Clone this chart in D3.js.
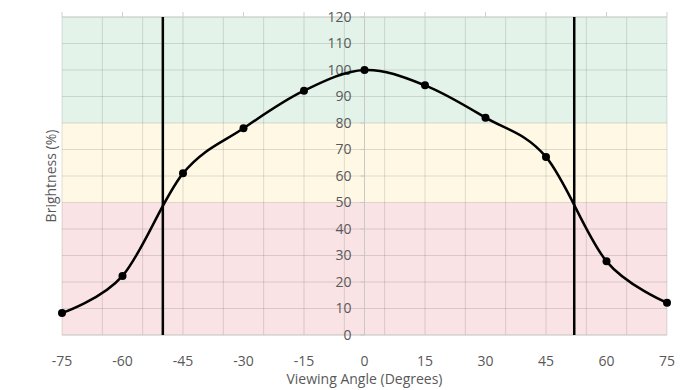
<!DOCTYPE html>
<html>
<head>
<script src="https://d3js.org/d3.v7.min.js"></script>
<style>
  body { margin: 0; background: #fff; }
  text { font-family: "Open Sans", sans-serif; fill: #595959; }
</style>
</head>
<body>
<script>
	var width = 693;
	var height = 390;
	var margin = {top: 17, right: 26, bottom: 55, left: 62};

	// data
	var angles = [-75, -60, -45, -30, -15, 0, 15, 30, 45, 60, 75];
	var brightness = [8.3, 22.3, 61, 78, 92.2, 100, 94.2, 82, 67.2, 27.8, 12.2];
	var xTicks = [-75, -60, -45, -30, -15, 0, 15, 30, 45, 60, 75];
	var xGrid = [-75, -65, -55, -45, -35, -25, -15, -5, 5, 15, 25, 35, 45, 55, 65, 75];
	var yTicks = [0, 10, 20, 30, 40, 50, 60, 70, 80, 90, 100, 110, 120];
	var cutoffs = [-50, 52];
	var bandLow = [0, 50, 80];
	var bandHigh = [50, 80, 120];
	var bandColors = ["#f9e3e4", "#fef8e5", "#e3f3e9"];

	var svg = d3.select("body")
		.append("svg")
		.attr("width", width)
		.attr("height", height)

	var x = d3.scaleLinear()
		.domain([-75, 75])
		.range([margin.left, width - margin.right])
	var y = d3.scaleLinear()
		.domain([0, 120])
		.range([height - margin.bottom, margin.top])

	// background bands
	svg.selectAll("rect.band")
		.data(bandLow)
		.enter()
		.append("rect")
		.attr("class", "band")
		.attr("x", x(-75))
		.attr("width", x(75) - x(-75))
		.attr("y", (d, i) => y(bandHigh[i]))
		.attr("height", (d, i) => y(d) - y(bandHigh[i]))
		.style("fill", (d, i) => bandColors[i])

	// gridlines
	svg.selectAll("line.vg")
		.data(xGrid)
		.enter()
		.append("line")
		.attr("x1", d => x(d)).attr("x2", d => x(d))
		.attr("y1", y(0)).attr("y2", y(120))
		.style("stroke", "rgba(0,0,0,0.12)")
	svg.selectAll("line.hg")
		.data(yTicks)
		.enter()
		.append("line")
		.attr("x1", x(-75)).attr("x2", x(75))
		.attr("y1", d => y(d)).attr("y2", d => y(d))
		.style("stroke", "rgba(0,0,0,0.12)")

	// top axis ticks
	svg.selectAll("line.tt")
		.data(xTicks)
		.enter()
		.append("line")
		.attr("x1", d => x(d)).attr("x2", d => x(d))
		.attr("y1", y(120) - 5).attr("y2", y(120))
		.style("stroke", "#d0d0d0")
	svg.append("line")
		.attr("x1", x(-75)).attr("x2", x(75))
		.attr("y1", y(120)).attr("y2", y(120))
		.style("stroke", "#d0d0d0")
	svg.append("line")
		.attr("x1", x(-75)).attr("x2", x(75))
		.attr("y1", y(0)).attr("y2", y(0))
		.style("stroke", "#d0d0d0")

	// y axis at zero
	svg.append("line")
		.attr("x1", x(0)).attr("x2", x(0))
		.attr("y1", y(0)).attr("y2", y(120))
		.style("stroke", "#c8c8c8")
	svg.selectAll("line.yt")
		.data(yTicks)
		.enter()
		.append("line")
		.attr("x1", x(0) - 4).attr("x2", x(0))
		.attr("y1", d => y(d)).attr("y2", d => y(d))
		.style("stroke", "#c8c8c8")

	svg.selectAll("text.yl")
		.data(yTicks)
		.enter()
		.append("text")
		.attr("x", x(0) - 13)
		.attr("y", d => y(d))
		.attr("dy", "0.35em")
		.attr("text-anchor", "end")
		.style("font-size", "14px")
		.text(d => d)

	svg.selectAll("text.xl")
		.data(xTicks)
		.enter()
		.append("text")
		.attr("x", d => x(d))
		.attr("y", 361)
		.attr("dy", "0.35em")
		.attr("text-anchor", "middle")
		.style("font-size", "14px")
		.text(d => d)

	svg.append("text")
		.attr("x", x(0))
		.attr("y", 379)
		.attr("dy", "0.35em")
		.attr("text-anchor", "middle")
		.style("font-size", "14px")
		.text("Viewing Angle (Degrees)")

	svg.append("text")
		.attr("transform", "translate(51," + 176 + ") rotate(-90)")
		.attr("dy", "0.35em")
		.attr("text-anchor", "middle")
		.style("font-size", "14px")
		.text("Brightness (%)")

	// cutoff lines
	svg.selectAll("line.cut")
		.data(cutoffs)
		.enter()
		.append("line")
		.attr("x1", d => x(d)).attr("x2", d => x(d))
		.attr("y1", y(0)).attr("y2", y(120))
		.style("stroke", "#000")
		.style("stroke-width", 2.5)

	// curve
	var line = d3.line()
		.x((d, i) => x(angles[i]))
		.y(d => y(d))
		.curve(d3.curveCatmullRom.alpha(0))
	svg.append("path")
		.datum(brightness)
		.attr("d", line)
		.style("fill", "none")
		.style("stroke", "#000")
		.style("stroke-width", 2.5)

	svg.selectAll("circle")
		.data(brightness)
		.enter()
		.append("circle")
		.attr("cx", (d, i) => x(angles[i]))
		.attr("cy", d => y(d))
		.attr("r", 4)
		.style("fill", "#000")
</script>
</body>
</html>
